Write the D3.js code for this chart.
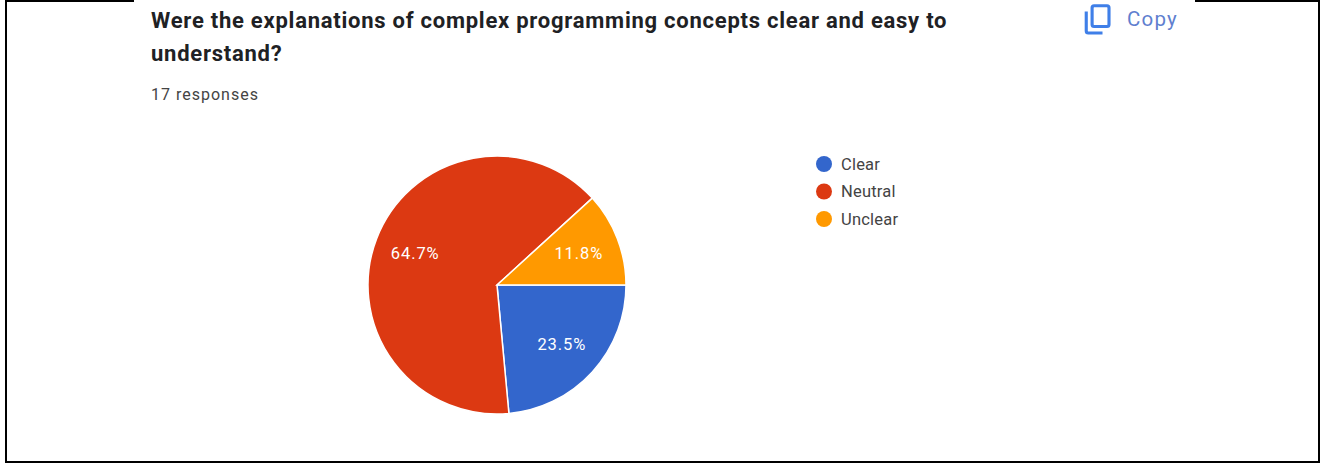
<!DOCTYPE html>
<html>
<head>
<meta charset="utf-8">
<script src="https://cdn.jsdelivr.net/npm/d3@7"></script>
<style>
  html, body { margin: 0; padding: 0; background: #fff; overflow: hidden; }
  text { font-family: Roboto, "Liberation Sans", sans-serif; }
</style>
</head>
<body>
<div id="container"></div>
<script>
const width = 1326;
const height = 466;

const categories = ["Clear", "Neutral", "Unclear"];
const responses = [4, 11, 2];
const percentLabels = ["23.5%", "64.7%", "11.8%"];
const colors = ["#3366cc", "#dc3912", "#ff9900"];
const titleLines = ["Were the explanations of complex programming concepts clear and easy to", "understand?"];

const viz = d3.select("#container").append("svg").attr("width", width).attr("height", height).style("display", "block");

// black frame, the top edge is cut away behind the card
const frame = viz.append("g").attr("stroke", "#000").attr("stroke-width", 2).attr("fill", "none");
frame.append("path").attr("d", "M134,1 H6 V462 H1319 V1 H1195");

// heading
viz.selectAll(".title").data(titleLines).enter().append("text")
  .attr("class", "title")
  .attr("x", 151)
  .attr("y", (d, i) => 28 + i * 33)
  .attr("font-size", 22)
  .attr("font-weight", 700)
  .attr("letter-spacing", 0.75)
  .attr("fill", "#202124")
  .text(d => d);

viz.append("text").attr("x", 151).attr("y", 100).attr("font-size", 16).attr("letter-spacing", 1)
  .attr("fill", "#444").text("17 responses");

// copy button
const copyIcon = viz.append("g").attr("transform", "translate(1083,2.5) scale(1.3)")
  .attr("fill", "none").attr("stroke", "#3f7fe8").attr("stroke-width", 2.4);
copyIcon.append("rect").attr("x", 7).attr("y", 2.5).attr("width", 13).attr("height", 16).attr("rx", 1.5);
copyIcon.append("path").attr("d", "M2.5,7 V22 a1.5,1.5 0 0 0 1.5,1.5 H15");
viz.append("text").attr("x", 1127).attr("y", 25.5).attr("font-size", 20.5).attr("letter-spacing", 1.2)
  .attr("fill", "#5f7fcf").text("Copy");

// pie, google forms starts at 3 o'clock and goes clockwise
const radius = 129;
const pieGroup = viz.append("g").attr("transform", "translate(497,285)");
const pie = d3.pie().sort(null).startAngle(Math.PI / 2).endAngle(Math.PI * 2.5);
const arc = d3.arc().innerRadius(0).outerRadius(radius);
const labelArc = d3.arc().innerRadius(radius * 0.68).outerRadius(radius * 0.68);
const slices = pie(responses);

pieGroup.selectAll(".slice").data(slices).enter().append("path")
  .attr("class", "slice")
  .attr("d", arc)
  .attr("fill", (d, i) => colors[i])
  .attr("stroke", "#fff")
  .attr("stroke-width", 1.5);

pieGroup.selectAll(".pct").data(slices).enter().append("text")
  .attr("class", "pct")
  .attr("transform", d => `translate(${labelArc.centroid(d)})`)
  .attr("text-anchor", "middle")
  .attr("dy", "0.35em")
  .attr("font-family", "'Liberation Sans', Arial, sans-serif")
  .attr("font-size", 16.5)
  .attr("letter-spacing", 0.9)
  .attr("fill", "#fff")
  .text((d, i) => percentLabels[i]);

// legend
const legendY = d3.scalePoint().domain(categories).range([164, 219]);
const legend = viz.selectAll(".legendItem").data(categories).enter().append("g")
  .attr("class", "legendItem")
  .attr("transform", d => `translate(824,${legendY(d)})`);
legend.append("circle").attr("r", 8).attr("fill", (d, i) => colors[i]);
legend.append("text").attr("x", 17).attr("dy", "0.35em")
  .attr("font-family", "'Liberation Sans', Arial, sans-serif")
  .attr("font-size", 16.5).attr("letter-spacing", 0.2).attr("fill", "#444").text(d => d);
</script>
</body>
</html>
